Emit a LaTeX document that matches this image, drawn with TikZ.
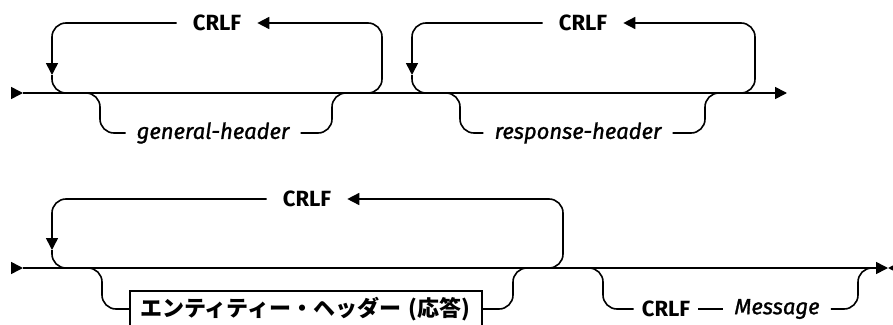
\documentclass[tikz,border=0pt]{standalone}
\usepackage{fontspec}
\setmainfont{Fira Sans}
\newfontfamily\cjk{Noto Sans CJK JP}
\newfontfamily\railit[FakeBold=1.2]{Fira Sans Italic}
\usetikzlibrary{arrows.meta}
\tikzset{
  rail/.style={line width=1.6pt, rounded corners=14pt},
  tip/.style={-{Triangle[length=12pt,width=12pt]}},
  kw/.style={font=\fontsize{22}{24}\selectfont\bfseries, inner xsep=16pt, inner ysep=0pt},
  var/.style={font=\fontsize{22}{24}\selectfont\railit, inner xsep=11pt, inner ysep=0pt},
  ntbox/.style={draw, line width=1.6pt, font=\fontsize{22}{24}\selectfont\cjk\bfseries,
    text width=332pt, align=left, minimum height=36pt, inner xsep=10pt},
}
\begin{document}
\begin{tikzpicture}[x=1pt,y=-1pt]
\clip (0,0) rectangle (893,324);
% first row
\coordinate (s1) at (11,93);
\coordinate (e1) at (787,93);
\node[kw] (crlfA) at (217,23) {CRLF};
\node[var] (gen) at (213,133) {general-header};
\node[kw] (crlfB) at (583,23) {CRLF};
\node[var] (resp) at (578,133) {response-header};
\draw[rail, tip] (s1) -- ++(12,0);
\draw[rail, tip] (s1) ++(12,0) -- (e1);
% repeat loops
\draw[rail, tip] (366,93) -| (382,23) -- (crlfA.east);
\draw[rail, tip] (crlfA.west) -| (52,75);
\draw[rail] (52,75) |- (72,93);
\draw[rail, tip] (738,93) -| (755,23) -- (crlfB.east);
\draw[rail, tip] (crlfB.west) -| (412,75);
\draw[rail] (412,75) |- (430,93);
% optional items
\draw[rail] (86,93) -| (100,133) -- (gen.west);
\draw[rail] (gen.east) -| (332,93) -- (348,93);
\draw[rail] (446,93) -| (460,133) -- (resp.west);
\draw[rail] (resp.east) -| (705,93) -- (720,93);

% second row
\coordinate (s2) at (11,268);
\coordinate (e2) at (888,268);
\node[kw] (crlfC) at (307,199) {CRLF};
\node[ntbox] (ent) at (306,309) {エンティティー・ヘッダー (応答)};
\node[kw, inner xsep=8pt] (crlfD) at (666,309) {CRLF};
\node[var] (msg) at (777,309) {Message};
\draw[rail, tip] (s2) -- ++(12,0);
\draw[rail, tip] (s2) ++(12,0) -- (e2);
\draw[rail, tip] (e2) ++(12,0) -- (e2);
\draw[rail, tip] (546,268) -| (563,199) -- (crlfC.east);
\draw[rail, tip] (crlfC.west) -| (52,250);
\draw[rail] (52,250) |- (72,268);
\draw[rail] (86,268) -| (102,309) -- (ent.west);
\draw[rail] (ent.east) -| (513,268) -- (528,268);
\draw[rail] (588,268) -| (603,309) -- (crlfD.west);
\draw[rail] (crlfD.east) -- (msg.west);
\draw[rail] (msg.east) -| (858,268) -- (872,268);
\end{tikzpicture}
\end{document}
